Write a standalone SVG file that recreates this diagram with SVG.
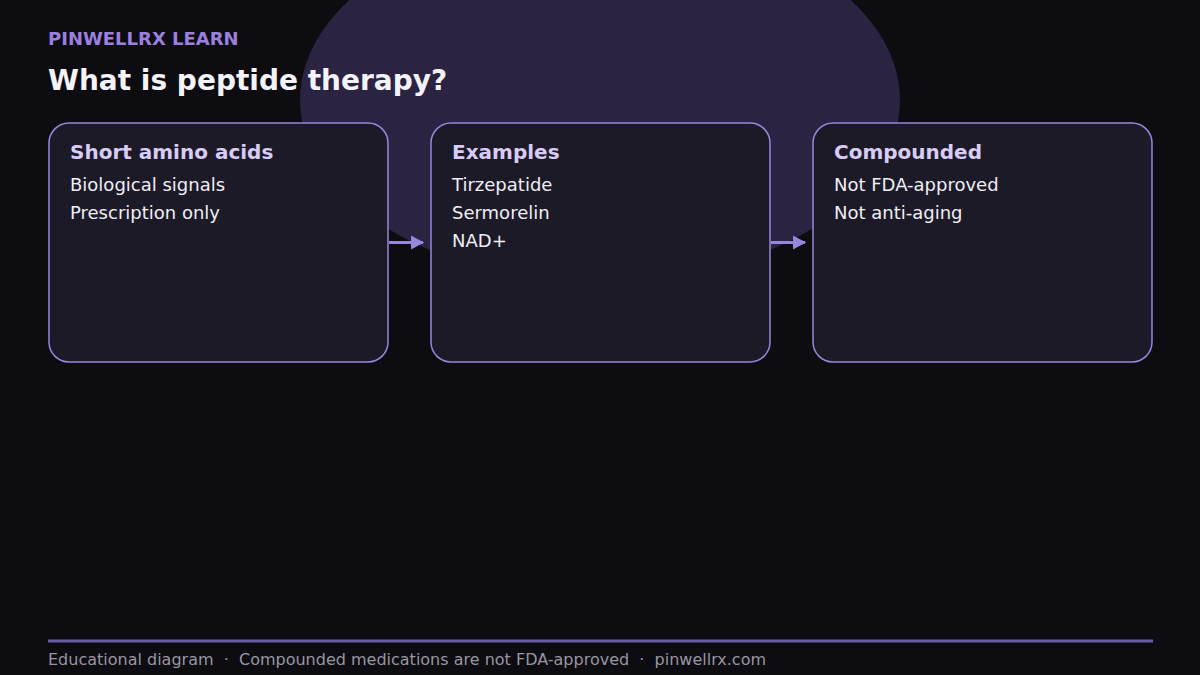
<svg xmlns="http://www.w3.org/2000/svg" width="1200" height="675" viewBox="0 0 1200 675">
<defs>
<style>
.t{font-family:"DejaVu Sans",sans-serif}
.box{fill:#1c1a27;stroke:#9a85dd;stroke-width:1.5}
.bt{font-family:"DejaVu Sans",sans-serif;font-weight:bold;font-size:20px;fill:#d8ccf6}
.bd{font-family:"DejaVu Sans",sans-serif;font-size:18px;fill:#f0eef6}
.conn{stroke:#9a85dd;stroke-width:3;fill:none}
</style>
<marker id="ah" markerWidth="14" markerHeight="16" refX="12" refY="8" orient="auto" markerUnits="userSpaceOnUse">
<path d="M0,1 L13,8 L0,15 Z" fill="#9a85dd"/>
</marker>
</defs>
<rect width="1200" height="675" fill="#0d0c11"/>
<ellipse cx="600" cy="100" rx="300" ry="182" fill="#2a2341"/>
<text class="t" x="48" y="45" font-size="18" font-weight="bold" fill="#9b80df">PINWELLRX LEARN</text>
<text class="t" x="48" y="90" font-size="28" font-weight="bold" fill="#f5f3fa">What is peptide therapy?</text>
<g id="connectors">
<line class="conn" x1="389" y1="242.5" x2="423" y2="242.5" marker-end="url(#ah)"/>
<line class="conn" x1="771" y1="242.5" x2="805" y2="242.5" marker-end="url(#ah)"/>
</g>
<g id="node1">
<rect class="box" x="49" y="123" width="339" height="239" rx="20"/>
<text class="bt" x="70" y="159">Short amino acids</text>
<text class="bd" x="70" y="191">Biological signals</text>
<text class="bd" x="70" y="219">Prescription only</text>
</g>
<g id="node2">
<rect class="box" x="431" y="123" width="339" height="239" rx="20"/>
<text class="bt" x="452" y="159">Examples</text>
<text class="bd" x="452" y="191">Tirzepatide</text>
<text class="bd" x="452" y="219">Sermorelin</text>
<text class="bd" x="452" y="247">NAD+</text>
</g>
<g id="node3">
<rect class="box" x="813" y="123" width="339" height="239" rx="20"/>
<text class="bt" x="834" y="159">Compounded</text>
<text class="bd" x="834" y="191">Not FDA-approved</text>
<text class="bd" x="834" y="219">Not anti-aging</text>
</g>
<line x1="48" y1="641" x2="1153" y2="641" stroke="#6b5aa8" stroke-width="3"/>
<text class="t" x="48" y="665" font-size="16" fill="#9896a0" xml:space="preserve">Educational diagram  ·  Compounded medications are not FDA-approved  ·  pinwellrx.com</text>
</svg>
